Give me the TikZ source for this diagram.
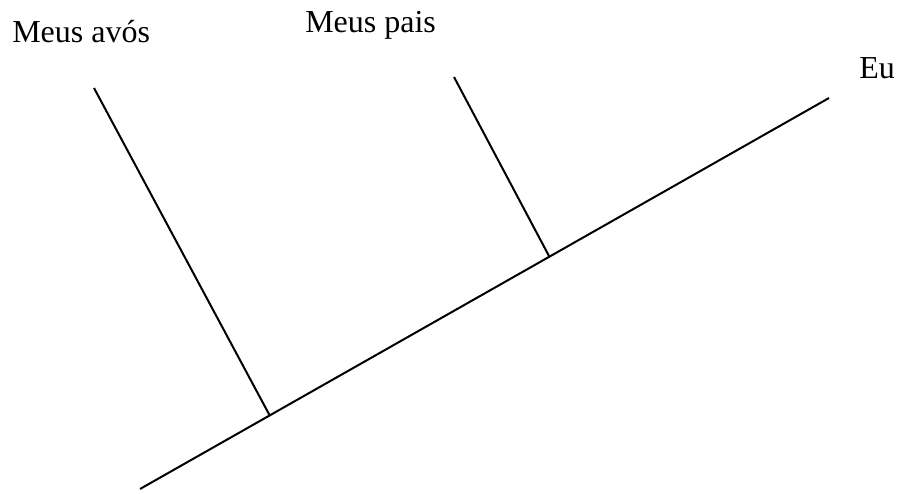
\documentclass[tikz,border=0pt]{standalone}
\usepackage{fontspec}
\setmainfont{Liberation Serif}
\usetikzlibrary{positioning}
\tikzset{
  branch/.style={black, line width=1.5pt},
  lab/.style={font=\fontsize{24}{28}\selectfont, inner sep=0pt, anchor=base west},
}
\begin{document}
\begin{tikzpicture}[x=0.75pt,y=-0.75pt]
  \path[use as bounding box] (0,0) rectangle (899,493);

  % Labels.
  \node[lab] (avos) at (12,42) {Meus avós};
  \node[lab] (pais) at (305,32) {Meus pais};
  \node[lab] (eu) at (859,78) {Eu};

  % End points and junctions.
  \coordinate (root) at (140,489);
  \coordinate (tip) at (829,98);
  \coordinate (avostop) at (94,88);
  \coordinate (avosjoin) at (270,416);
  \coordinate (paistop) at (454,77);
  \coordinate (paisjoin) at (549,256);

  % Main line and branches.
  \draw[branch] (root) -- (tip);
  \draw[branch] (avostop) -- (avosjoin);
  \draw[branch] (paistop) -- (paisjoin);
\end{tikzpicture}
\end{document}
